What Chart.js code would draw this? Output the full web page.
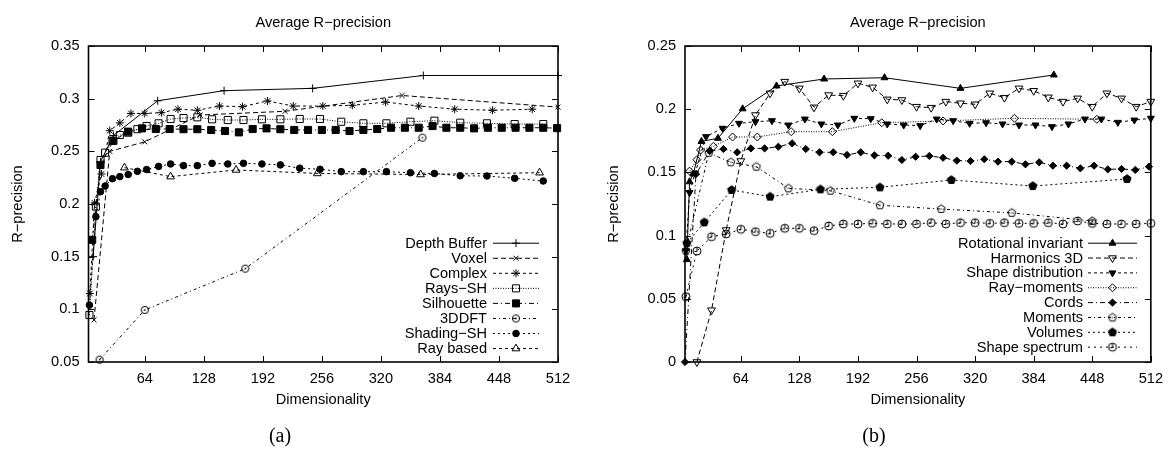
<!DOCTYPE html>
<html>
<head>
<meta charset="utf-8">
<script src="https://cdn.jsdelivr.net/npm/chart.js@4.4.0/dist/chart.umd.min.js"></script>
<style>
  html, body { margin: 0; padding: 0; background: #fff; }
  #wrap { position: relative; width: 1171px; height: 450px; overflow: hidden; }
  canvas { position: absolute; top: 0; }
  #chartA { left: 0; width: 585px; height: 450px; }
  #chartB { left: 585px; width: 586px; height: 450px; }
</style>
</head>
<body>
<div id="wrap">
  <canvas id="chartA" width="585" height="450"></canvas>
  <canvas id="chartB" width="586" height="450"></canvas>
</div>
<script>
// ---- data: (a) ----
const xTicks = [64, 128, 192, 256, 320, 384, 448, 512];
const yTicksA = [0.05, 0.1, 0.15, 0.2, 0.25, 0.3, 0.35];
const yTicksB = [0, 0.05, 0.1, 0.15, 0.2, 0.25];

const depthX = [8, 16, 30, 78, 150, 246, 366, 512];
const depthY = [0.15, 0.24, 0.265, 0.298, 0.3076, 0.3098, 0.322, 0.322];
const voxelX = [9, 26, 64, 124, 216, 343, 512];
const voxelY = [0.09, 0.25, 0.259, 0.2845, 0.288, 0.303, 0.292];
const complexX = [4.5, 9.6, 17, 26, 37, 49, 64, 82, 100, 121, 145, 170, 197, 225, 257, 289, 325, 361, 400, 441, 484];
const complexY = [0.115, 0.201, 0.2285, 0.2696, 0.277, 0.286, 0.286, 0.2867, 0.29, 0.289, 0.293, 0.2924, 0.2978, 0.293, 0.293, 0.2937, 0.2968, 0.293, 0.29, 0.289, 0.29];
const shX = [4, 11, 16, 21, 29, 37, 46, 56, 66, 79, 92, 106, 121, 137, 154, 171, 191, 211, 232, 254, 277, 301, 326, 352, 378, 406, 435, 465, 496];
const raysShY = [0.0946, 0.1975, 0.2418, 0.2487, 0.26, 0.2655, 0.2677, 0.271, 0.274, 0.2766, 0.2807, 0.2816, 0.2823, 0.2804, 0.2797, 0.2797, 0.2804, 0.2804, 0.2807, 0.2807, 0.2781, 0.2766, 0.2766, 0.2781, 0.2791, 0.2772, 0.2766, 0.2759, 0.2759];
const shadingShY = [0.104, 0.188, 0.2117, 0.2171, 0.224, 0.226, 0.228, 0.231, 0.2327, 0.2357, 0.238, 0.2364, 0.2364, 0.2386, 0.238, 0.2386, 0.238, 0.2371, 0.234, 0.233, 0.2307, 0.2307, 0.2307, 0.2297, 0.229, 0.2268, 0.2266, 0.2244, 0.2218];
const silX = [7, 16, 30, 46, 61, 76, 91, 106, 121, 136, 151, 166, 181, 196, 211, 226, 241, 256, 271, 286, 301, 316, 331, 346, 361, 376, 391, 406, 421, 436, 451, 466, 481, 496, 511];
const silY = [0.166, 0.237, 0.26, 0.2687, 0.2718, 0.2712, 0.2712, 0.271, 0.271, 0.2703, 0.2693, 0.268, 0.2712, 0.2718, 0.271, 0.2703, 0.2703, 0.2703, 0.2703, 0.2693, 0.2703, 0.2712, 0.2724, 0.2724, 0.2724, 0.274, 0.2724, 0.2724, 0.2718, 0.2724, 0.2724, 0.2724, 0.2724, 0.2724, 0.272];
const dftX = [15, 64, 173, 365];
const dftY = [0.0522, 0.0994, 0.1386, 0.263];
const rayX = [42, 92, 163, 251, 363, 492];
const rayY = [0.2345, 0.226, 0.2323, 0.229, 0.228, 0.2297];

// ---- data: (b) ----
const rotX = [5, 8, 12, 21, 39, 66, 103, 155, 221, 304, 406];
const rotY = [0.081, 0.1426, 0.1487, 0.1745, 0.177, 0.2003, 0.2184, 0.2239, 0.2249, 0.2165, 0.2271];
const harmX = [16, 32, 48, 64, 80, 96, 112, 128, 144, 160, 176, 192, 208, 224, 240, 256, 272, 288, 304, 320, 336, 352, 368, 384, 400, 416, 432, 448, 464, 480, 496, 512];
const harmY = [0, 0.041, 0.1044, 0.159, 0.1954, 0.2126, 0.2218, 0.2165, 0.2015, 0.2112, 0.2107, 0.2205, 0.2173, 0.2078, 0.2073, 0.202, 0.2012, 0.206, 0.2047, 0.2039, 0.2126, 0.2091, 0.2165, 0.2146, 0.2094, 0.206, 0.2086, 0.202, 0.2126, 0.2086, 0.202, 0.206];
const distX = [4, 8, 14, 26, 44, 62, 80, 98, 116, 134, 152, 170, 188, 206, 224, 242, 260, 278, 296, 314, 332, 350, 368, 386, 404, 422, 440, 458, 476, 494, 512];
const distY = [0.088, 0.134, 0.1493, 0.1783, 0.1849, 0.1888, 0.1901, 0.1909, 0.1875, 0.1922, 0.1883, 0.1875, 0.1928, 0.1925, 0.1883, 0.1875, 0.187, 0.1922, 0.1909, 0.1888, 0.1893, 0.1883, 0.1875, 0.1875, 0.1862, 0.1883, 0.1922, 0.1922, 0.1896, 0.1914, 0.1928];
const rayMomX = [8, 16, 20, 34, 55, 82, 119, 164, 218, 285, 363, 453];
const rayMomY = [0.151, 0.16, 0.1677, 0.1706, 0.178, 0.178, 0.1822, 0.1822, 0.1893, 0.1907, 0.1928, 0.192];
const cordsX = [3, 15, 30, 45, 60, 75, 90, 105, 120, 135, 150, 165, 180, 195, 210, 225, 240, 255, 270, 285, 300, 315, 330, 345, 360, 375, 390, 405, 420, 435, 450, 465, 480, 495, 510];
const cordsY = [0, 0.1487, 0.1669, 0.1685, 0.1659, 0.169, 0.169, 0.1703, 0.173, 0.1685, 0.1659, 0.1659, 0.1638, 0.1659, 0.1635, 0.1632, 0.1598, 0.1624, 0.163, 0.1616, 0.1593, 0.159, 0.1604, 0.1585, 0.1585, 0.1564, 0.158, 0.1553, 0.1553, 0.1532, 0.1553, 0.1524, 0.1527, 0.1519, 0.1545];
const momX = [4, 29, 53, 81, 116, 162, 216, 283, 360, 448];
const momY = [0.088, 0.1655, 0.158, 0.1545, 0.1374, 0.1355, 0.124, 0.121, 0.118, 0.1116];
const volX = [5, 24, 54, 96, 151, 216, 294, 383, 486];
const volY = [0.094, 0.1105, 0.1361, 0.1308, 0.1366, 0.1382, 0.144, 0.1392, 0.1448];
const specX = [4, 16, 32, 48, 64, 80, 96, 112, 128, 144, 160, 176, 192, 208, 224, 240, 256, 272, 288, 304, 320, 336, 352, 368, 384, 400, 416, 432, 448, 464, 480, 496, 512];
const specY = [0.0517, 0.0878, 0.0991, 0.1013, 0.105, 0.1031, 0.1018, 0.1058, 0.1058, 0.1039, 0.1076, 0.1092, 0.1092, 0.1097, 0.1092, 0.1092, 0.1092, 0.1102, 0.1092, 0.1102, 0.1102, 0.1097, 0.1102, 0.1097, 0.1097, 0.1102, 0.1092, 0.1116, 0.1097, 0.1092, 0.1092, 0.1092, 0.1097];

const FONT = '"Liberation Sans", Arial, sans-serif';
const NONE = 'rgba(0,0,0,0)';

// small canvases for gnuplot point types Chart.js doesn't have
function marker(draw, size = 12) {
  const c = document.createElement('canvas');
  c.width = c.height = size;
  const g = c.getContext('2d');
  g.translate(size / 2, size / 2);
  g.strokeStyle = '#000';
  g.fillStyle = '#000';
  g.lineWidth = 1;
  draw(g);
  return c;
}
function pentagon(g, r) {
  g.beginPath();
  for (let i = 0; i < 5; i++) {
    const a = -Math.PI / 2 + i * 2 * Math.PI / 5;
    g.lineTo(r * Math.cos(a), r * Math.sin(a));
  }
  g.closePath();
}
const circleDot = marker(g => { g.beginPath(); g.arc(0, 0, 3.6, 0, Math.PI * 2); g.stroke(); g.fillRect(-0.7, -0.7, 1.4, 1.4); });
const pentOpen = marker(g => { pentagon(g, 4.2); g.stroke(); g.fillRect(-0.6, -0.6, 1.2, 1.2); });
const pentFill = marker(g => { pentagon(g, 4.3); g.fill(); g.stroke(); });
const clock = marker(g => {
  g.beginPath(); g.arc(0, 0, 4, 0, Math.PI * 2); g.stroke();
  g.beginPath(); g.moveTo(0, 0.5); g.lineTo(0, -4); g.moveTo(0, 0.5); g.lineTo(-2.5, 0.5); g.stroke();
});

const seriesA = [
  { label: 'Depth Buffer', x: depthX, y: depthY, dash: [], style: 'cross', r: 4 },
  { label: 'Voxel', x: voxelX, y: voxelY, dash: [5, 3], style: 'crossRot', r: 3.5 },
  { label: 'Complex', x: complexX, y: complexY, dash: [3, 3], style: 'star', r: 4 },
  { label: 'Rays−SH', x: shX, y: raysShY, dash: [1, 1.5], style: 'rect', r: 5, fill: NONE },
  { label: 'Silhouette', x: silX, y: silY, dash: [5, 3, 1, 3], style: 'rect', r: 5, fill: '#000' },
  { label: '3DDFT', x: dftX, y: dftY, dash: [3, 3, 1, 3], style: circleDot },
  { label: 'Shading−SH', x: shX, y: shadingShY, dash: [2, 3], style: 'circle', r: 3.3, fill: '#000' },
  { label: 'Ray based', x: rayX, y: rayY, dash: [3, 3], style: 'triangle', r: 4.5, fill: NONE },
];
const seriesB = [
  { label: 'Rotational invariant', x: rotX, y: rotY, dash: [], style: 'triangle', r: 4, fill: '#000' },
  { label: 'Harmonics 3D', x: harmX, y: harmY, dash: [5, 3], style: 'triangle', r: 4.5, rot: 180, fill: NONE },
  { label: 'Shape distribution', x: distX, y: distY, dash: [3, 3], style: 'triangle', r: 4, rot: 180, fill: '#000' },
  { label: 'Ray−moments', x: rayMomX, y: rayMomY, dash: [1, 1.5], style: 'rectRot', r: 4, fill: NONE },
  { label: 'Cords', x: cordsX, y: cordsY, dash: [5, 3, 1, 3], style: 'rectRot', r: 3.6, fill: '#000' },
  { label: 'Moments', x: momX, y: momY, dash: [3, 3, 1, 3], style: pentOpen },
  { label: 'Volumes', x: volX, y: volY, dash: [2, 3], style: pentFill },
  { label: 'Shape spectrum', x: specX, y: specY, dash: [2, 4], style: clock },
];

// box with mirrored inward ticks, title, caption and gnuplot-style key
const gnuplotLook = {
  id: 'gp',
  beforeDatasetsDraw(chart) {
    const { ctx, chartArea: a, scales: { x, y } } = chart;
    ctx.save();
    ctx.strokeStyle = '#000';
    ctx.lineWidth = 1;
    ctx.beginPath();
    x.ticks.forEach(t => {
      const px = Math.round(x.getPixelForValue(t.value)) + 0.5;
      ctx.moveTo(px, a.bottom); ctx.lineTo(px, a.bottom - 6);
      ctx.moveTo(px, a.top); ctx.lineTo(px, a.top + 6);
    });
    y.ticks.forEach(t => {
      const py = Math.round(y.getPixelForValue(t.value)) + 0.5;
      ctx.moveTo(a.left, py); ctx.lineTo(a.left + 6, py);
      ctx.moveTo(a.right, py); ctx.lineTo(a.right - 6, py);
    });
    ctx.stroke();
    ctx.lineWidth = 1.6;
    ctx.strokeRect(a.left, a.top, a.right - a.left, a.bottom - a.top);
    ctx.restore();
  },
  afterDraw(chart, args, opts) {
    const { ctx, chartArea: a } = chart;
    ctx.save();
    ctx.fillStyle = '#000';
    ctx.textBaseline = 'middle';
    ctx.textAlign = 'center';
    ctx.font = `14.6px ${FONT}`;
    ctx.fillText('Average R−precision', (a.left + a.right) / 2, 23);
    ctx.font = '20px "Liberation Serif", "Times New Roman", serif';
    ctx.fillText(opts.caption, opts.captionX, 437);

    // key
    ctx.font = `14.6px ${FONT}`;
    ctx.textAlign = 'right';
    chart.data.datasets.forEach((ds, i) => {
      const yy = opts.keyTop + i * opts.keyStep;
      ctx.fillStyle = '#000';
      ctx.fillText(ds.label, opts.textRight, yy + 1);
      ctx.strokeStyle = '#000';
      ctx.lineWidth = 1;
      ctx.setLineDash(ds.borderDash);
      ctx.beginPath();
      ctx.moveTo(opts.lineFrom, yy + 0.5);
      ctx.lineTo(opts.lineTo, yy + 0.5);
      ctx.stroke();
      ctx.setLineDash([]);
      const mx = (opts.lineFrom + opts.lineTo) / 2;
      ctx.fillStyle = ds.pointBackgroundColor;
      Chart.helpers.drawPoint(ctx, {
        pointStyle: ds.pointStyle, radius: ds.pointRadius,
        rotation: ds.pointRotation, borderWidth: 1
      }, mx, yy + 0.5);
    });
    ctx.restore();
  }
};

function makeChart(id, series, yTicks, yMin, yMax, box) {
  const datasets = series.map(s => ({
    label: s.label,
    data: s.x.map((v, i) => ({ x: v, y: s.y[i] })),
    showLine: true,
    borderColor: '#000',
    borderWidth: 1,
    borderDash: s.dash,
    pointStyle: s.style,
    pointRadius: s.r || 4,
    pointRotation: s.rot || 0,
    pointBackgroundColor: s.fill || '#000',
    pointBorderColor: '#000',
    pointBorderWidth: 1,
    tension: 0,
    clip: 8,
  }));
  new Chart(document.getElementById(id), {
    type: 'scatter',
    data: { datasets },
    options: {
      responsive: false,
      animation: false,
      events: [],
      layout: { padding: { left: 0, top: 46, right: box.padRight, bottom: 0 } },
      plugins: {
        legend: { display: false },
        tooltip: { enabled: false },
        gp: box.key,
      },
      scales: {
        x: {
          type: 'linear', min: 3, max: 512,
          afterBuildTicks: s => { s.ticks = xTicks.map(v => ({ value: v })); },
          afterFit: s => { s.height = 88; },
          grid: { display: false, drawTicks: false },
          border: { display: false },
          ticks: { color: '#000', font: { family: FONT, size: 14.6 }, padding: 8, maxRotation: 0 },
          title: { display: true, text: 'Dimensionality', color: '#000', font: { family: FONT, size: 14.6 }, padding: { top: 0, bottom: 41.2 } },
        },
        y: {
          type: 'linear', min: yMin, max: yMax,
          afterBuildTicks: s => { s.ticks = yTicks.map(v => ({ value: v })); },
          afterFit: s => { s.width = box.yWidth; },
          grid: { display: false, drawTicks: false },
          border: { display: false },
          ticks: { color: '#000', font: { family: FONT, size: 14.6 }, padding: 9, callback: v => String(+v.toFixed(2)) },
          title: { display: true, text: 'R−precision', color: '#000', font: { family: FONT, size: 14.6 }, padding: { top: box.yTitlePad, bottom: 0 } },
        },
      },
    },
    plugins: [gnuplotLook],
  });
}

makeChart('chartA', seriesA, yTicksA, 0.05, 0.35, {
  padRight: 27, yWidth: 88.5, yTitlePad: 9.5,
  key: { caption: '(a)', captionX: 280, keyTop: 242.7, keyStep: 15.05, textRight: 487, lineFrom: 493, lineTo: 539 },
});
makeChart('chartB', seriesB, yTicksB, 0, 0.25, {
  padRight: 17, yWidth: 100, yTitlePad: 20.2,
  key: { caption: '(b)', captionX: 874 - 585, keyTop: 242.7, keyStep: 14.85, textRight: 1083 - 585, lineFrom: 1088 - 585, lineTo: 1137 - 585 },
});
</script>
</body>
</html>
